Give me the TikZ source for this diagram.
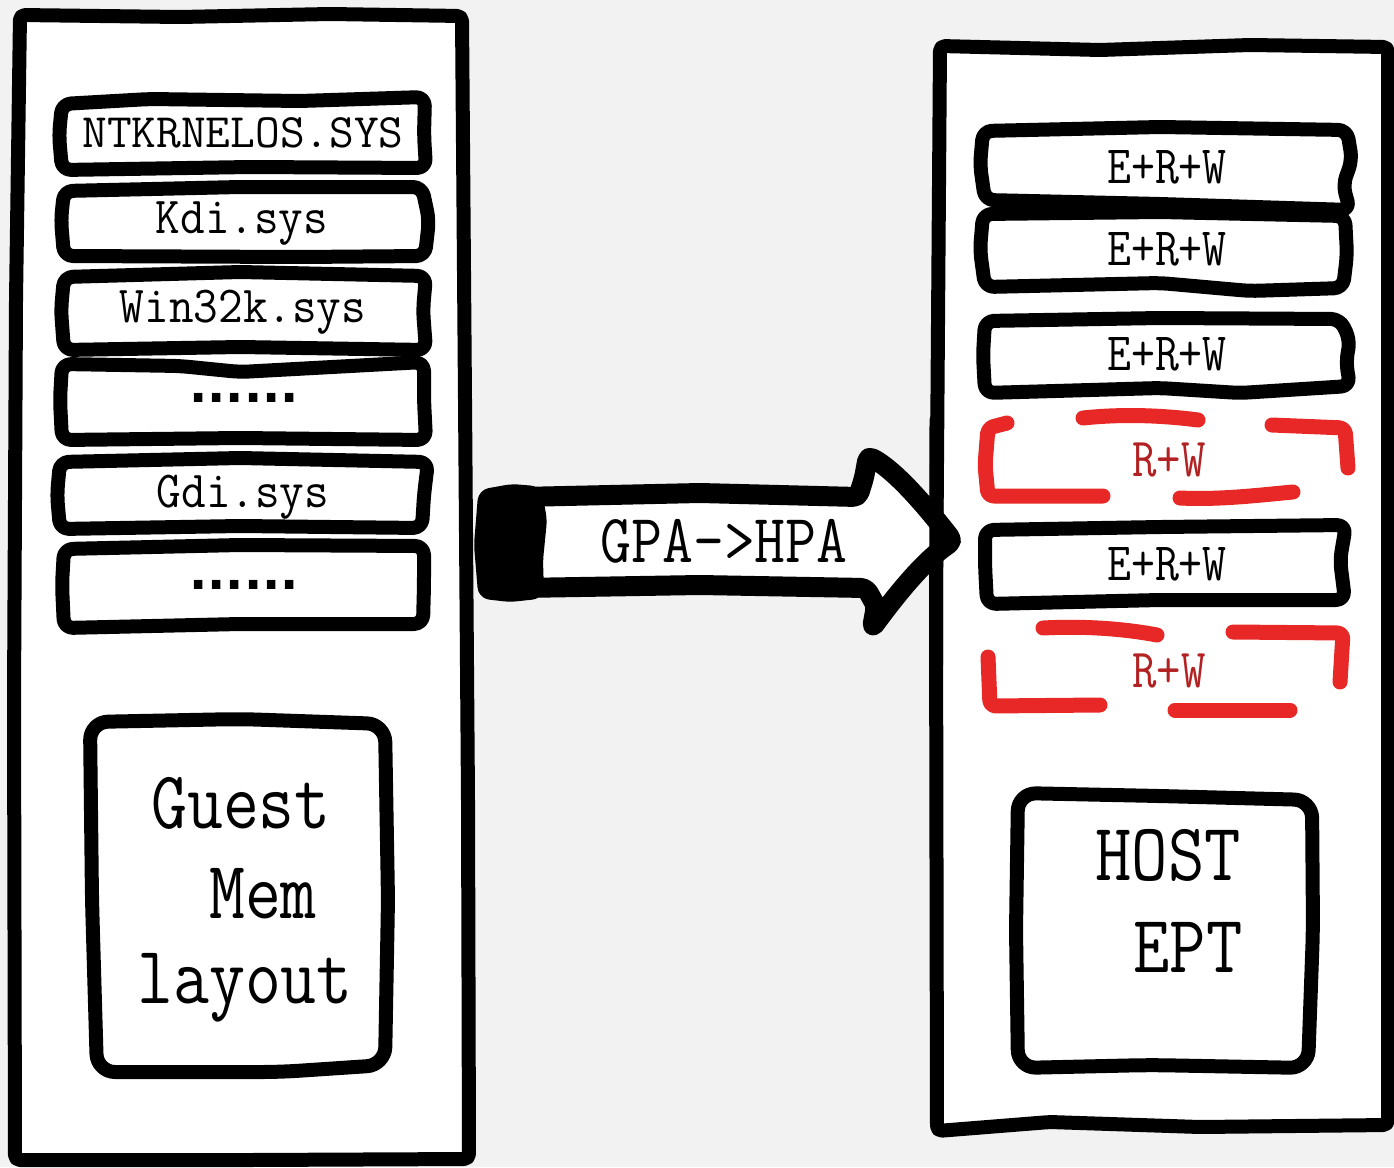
\documentclass[tikz,border=0pt]{standalone}
\usepackage{fontspec}
\usepackage{graphicx}
\newfontfamily\dotsfont{DejaVu Sans}
\definecolor{bggray}{RGB}{242,242,242}
\definecolor{dashred}{RGB}{232,40,38}
\definecolor{labelred}{RGB}{178,34,34}
% condensed typewriter label: size, horizontal scale, text
\newcommand{\mono}[3]{\scalebox{#2}[1]{\fontsize{#1}{#1}\selectfont\ttfamily #3}}
\tikzset{
  ink/.style={draw=black, line width=14pt, line cap=round, line join=round},
  sheet/.style={ink, fill=white, rounded corners=5pt},
  slot/.style={ink, fill=white, rounded corners=9pt},
  redink/.style={draw=dashred, line width=15pt, line cap=round, line join=round, rounded corners=6pt},
  arrowink/.style={draw=black, line width=20pt, line cap=round, line join=round, rounded corners=5pt},
  lbl/.style={inner sep=0pt, anchor=base},
}
\begin{document}
\begin{tikzpicture}[x=1pt, y=-1pt]
\useasboundingbox (0,0) rectangle (1394,1167);
\fill[bggray] (0,0) rectangle (1394,1167);

% ---------- guest column ----------
\draw[sheet] (20,15) -- (180,17) -- (330,14) -- (462,16) -- (465,400) -- (468,800)
  -- (469,1159) -- (250,1160) -- (15,1160) -- (14,700) -- (16,300) -- cycle;

% ---------- host column (filled, outline redrawn over the arrow) ----------
\draw[sheet] (940,46) -- (1100,50) -- (1250,45) -- (1388,47) -- (1388,600)
  -- (1388,1125) -- (1200,1127) -- (1050,1122) -- (937,1131) -- (936,600) -- cycle;

% ---------- translation arrow ----------
\draw[arrowink, fill=white] (520,497) -- (700,493) -- (858,497) -- (864,478) -- (868,456)
  .. controls (895,470) and (925,505) .. (953,541)
  .. controls (925,560) and (900,590) .. (872,628)
  -- (876,606) -- (866,588) -- (700,585) -- (520,588) -- cycle;
\filldraw[line width=12pt, line join=round, rounded corners=6pt]
  (484,495) -- (512,490) -- (536,492) -- (541,520) -- (537,560) -- (538,593)
  -- (510,596) -- (484,593) -- (480,545) -- cycle;
\draw[ink] (936.5,420) -- (936,665);
\node[lbl] (gpa) at (724,562) {\mono{69}{0.87}{GPA->HPA}};

% ---------- guest memory slots ----------
\draw[slot] (62,104) -- (150,99) -- (300,101) -- (425,97) -- (424,135) -- (426,168)
  -- (250,167) -- (62,170) -- (59,135) -- cycle;
\node[lbl] (ntk) at (243,147) {\mono{48}{1.0}{NTKRNELOS.SYS}};

\draw[slot] (64,191) -- (240,187) -- (422,187) -- (429,220) -- (425,256)
  -- (300,257) -- (64,256) -- (61,220) -- cycle;
\node[lbl] (kdi) at (242,233) {\mono{52}{0.92}{Kdi.sys}};

\draw[slot] (64,277) -- (240,272) -- (426,276) -- (423,310) -- (426,350)
  -- (240,347) -- (64,350) -- (61,310) -- cycle;
\node[lbl] (win) at (243,322) {\mono{52}{0.92}{Win32k.sys}};

\draw[slot] (62,364) -- (180,366) -- (240,372) -- (424,362) -- (424,400) -- (426,440)
  -- (240,438) -- (62,440) -- (60,400) -- cycle;
\node (dotsa) at (244,398) {\dotsfont\bfseries\fontsize{48}{48}\selectfont ......};

\draw[slot] (60,462) -- (240,458) -- (428,462) -- (424,495) -- (422,528)
  -- (240,526) -- (60,529) -- (57,495) -- cycle;
\node[lbl] (gdi) at (243,507) {\mono{52}{0.92}{Gdi.sys}};

\draw[slot] (64,549) -- (240,545) -- (424,546) -- (424,585) -- (423,624)
  -- (240,624) -- (64,628) -- (62,585) -- cycle;
\node (dotsb) at (244,585) {\dotsfont\bfseries\fontsize{48}{48}\selectfont ......};

% ---------- guest layout panel ----------
\draw[ink, fill=white, rounded corners=18pt] (90,722) -- (240,719) -- (385,724) -- (388,900)
  -- (385,1065) -- (280,1072) -- (97,1072) -- (92,900) -- cycle;
\node[lbl] (guest) at (241,828) {\mono{82}{0.85}{Guest}};
\node[lbl] (mem) at (263,918) {\mono{82}{0.85}{Mem}};
\node[lbl] (layout) at (245,1003) {\mono{82}{0.85}{layout}};

% ---------- host page permissions ----------
\draw[slot] (983,131) -- (1160,127) -- (1347,130) -- (1352,160) -- (1343,185) -- (1350,210)
  -- (1160,204) -- (985,200) -- (980,165) -- cycle;
\node[lbl] (p1) at (1167,183) {\mono{54}{0.86}{E+R+W}};

\draw[slot] (983,214) -- (1160,212) -- (1345,216) -- (1347,255) -- (1343,288)
  -- (1250,291) -- (1160,283) -- (985,287) -- (980,250) -- cycle;
\node[lbl] (p2) at (1167,265) {\mono{54}{0.86}{E+R+W}};

\draw[slot] (985,321) -- (1160,318) -- (1340,319) -- (1350,340) -- (1346,362) -- (1350,386)
  -- (1240,393) -- (1160,388) -- (985,393) -- (983,355) -- cycle;
\node[lbl] (p3) at (1167,370) {\mono{54}{0.86}{E+R+W}};

\draw[redink] (1007,423) -- (988,428) -- (985,465) -- (988,496) -- (1103,496);
\draw[redink] (1083,418) .. controls (1120,414) and (1160,415) .. (1198,420);
\draw[redink] (1272,425) -- (1345,428) -- (1348,468);
\draw[redink] (1180,498) .. controls (1220,500) and (1260,495) .. (1293,492);
\node[lbl, text=labelred] (p4) at (1169,476) {\mono{55}{0.86}{R+W}};

\draw[slot] (985,530) -- (1160,527) -- (1346,525) -- (1340,560) -- (1345,600)
  -- (1160,600) -- (987,604) -- (985,565) -- cycle;
\node[lbl] (p5) at (1167,580) {\mono{54}{0.86}{E+R+W}};

\draw[redink] (1043,628) .. controls (1080,626) and (1120,628) .. (1157,635);
\draw[redink] (1233,632) -- (1343,633) -- (1340,682);
\draw[redink] (988,657) -- (990,706) -- (1100,705);
\draw[redink] (1175,710) -- (1290,710);
\node[lbl, text=labelred] (p6) at (1169,687) {\mono{55}{0.86}{R+W}};

% ---------- host EPT panel ----------
\draw[ink, fill=white, rounded corners=18pt] (1018,793) -- (1160,796) -- (1312,800) -- (1313,930)
  -- (1308,1068) -- (1150,1065) -- (1018,1068) -- (1016,930) -- cycle;
\node[lbl] (host) at (1168,880) {\mono{82}{0.86}{HOST}};
\node[lbl] (ept) at (1188,972) {\mono{82}{0.86}{EPT}};
\end{tikzpicture}
\end{document}
